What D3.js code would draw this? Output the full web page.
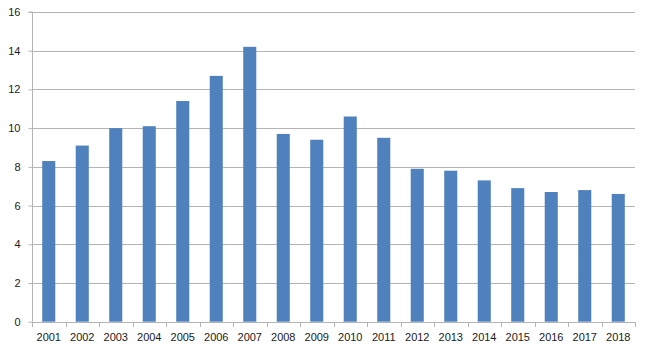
<!DOCTYPE html>
<html><head><meta charset="utf-8">
<script src="https://cdn.jsdelivr.net/npm/d3@7"></script>
<style>body{margin:0;background:#fff;}svg{display:block;}</style>
</head><body>
<svg id="c" width="645" height="357"></svg>
<script>
const years = ["2001","2002","2003","2004","2005","2006","2007","2008","2009","2010","2011","2012","2013","2014","2015","2016","2017","2018"];
const values = [8.3,9.1,10.0,10.1,11.4,12.7,14.2,9.7,9.4,10.6,9.5,7.9,7.8,7.3,6.9,6.7,6.8,6.6];
const yTicks = [0,2,4,6,8,10,12,14,16];

const svg = d3.select("#c");
const pL = 32, pR = 635, pT = 12, pB = 321.7;
const x = d3.scaleBand().domain(years).range([pL, pR]).paddingInner(0.61).paddingOuter(0.305);
const xb = d3.scaleBand().domain(years).range([pL, pR]);
const y = d3.scaleLinear().domain([0,16]).range([pB, pT]);

// gridlines
svg.append("g").selectAll("line").data(yTicks.filter(d=>d>0)).join("line")
  .attr("x1", pL).attr("x2", pR)
  .attr("y1", d=>Math.round(y(d))+0.5).attr("y2", d=>Math.round(y(d))+0.5)
  .attr("stroke", "#b4b4b4").attr("stroke-width", 1);

// bars
svg.append("g").selectAll("rect").data(values).join("rect")
  .attr("x", (d,i)=>x(years[i]))
  .attr("width", x.bandwidth())
  .attr("y", d=>y(d))
  .attr("height", d=>pB - y(d))
  .attr("fill", "#4f81bd");

// y axis
const yAxis = d3.axisLeft(y).tickValues(yTicks).tickSize(4).tickPadding(8).tickFormat(d3.format("d"));
const gy = svg.append("g").attr("transform", `translate(${pL+0.5},0)`).call(yAxis);
gy.select(".domain").attr("stroke", "#b4b4b4").attr("d", `M-4,${pT}H0V${pB}`);
gy.selectAll(".tick line").attr("stroke", "#b4b4b4");
gy.selectAll(".tick text").attr("fill", "#1a1a1a").style("font", "11px 'Liberation Sans', Arial, sans-serif");

// x axis
const xAxis = d3.axisBottom(xb).tickSize(0).tickPadding(11);
const gx = svg.append("g").attr("transform", `translate(0,${Math.round(pB)+0.5})`).call(xAxis);
gx.select(".domain").attr("stroke", "#b4b4b4").attr("d", `M${pL},0H${pR}`);
gx.selectAll(".tick text").attr("fill", "#1a1a1a").style("font", "11px 'Liberation Sans', Arial, sans-serif");
// x tick marks at category boundaries
svg.append("g").selectAll("line").data(years.concat(["end"])).join("line")
  .attr("x1", (d,i)=>Math.round(pL + i*xb.step())+0.5)
  .attr("x2", (d,i)=>Math.round(pL + i*xb.step())+0.5)
  .attr("y1", Math.round(pB)).attr("y2", Math.round(pB)+5)
  .attr("stroke", "#b4b4b4");
</script>
</body></html>
